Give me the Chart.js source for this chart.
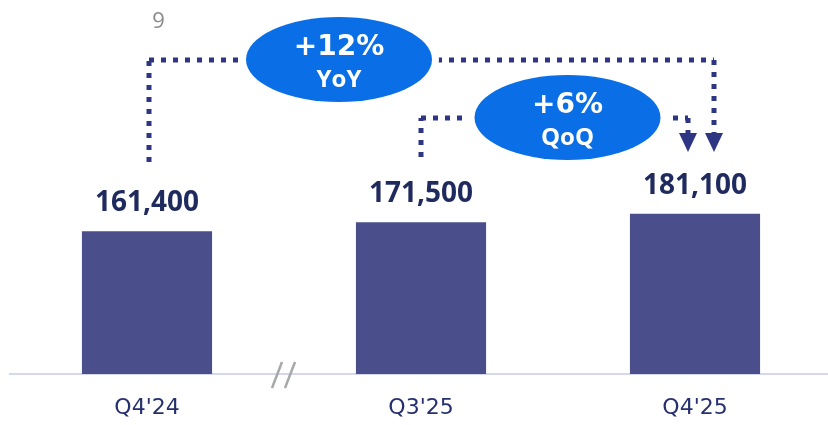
<!DOCTYPE html>
<html>
    <head>
        <meta charset="UTF-8"/>
        <title>Quarterly totals</title>
        <script src="https://cdn.jsdelivr.net/npm/chart.js@4.4.1/dist/chart.umd.min.js"></script>
        <style>
            html, body { margin: 0; padding: 0; overflow: hidden; background: #ffffff; }
            #wrap { position: relative; width: 832px; height: 425px; }
        </style>
    </head>
    <body>
        <div id="wrap"><canvas id="chart"></canvas></div>
        <script>
            const quarters = ["Q4'24", "Q3'25", "Q4'25"];
            const totals = [161400, 171500, 181100];
            const yoyText = ['+12%', 'YoY'];
            const qoqText = ['+6%', 'QoQ'];
            const pageNumber = '9';

            const navy = '#2e3582';
            const bubble = '#0a6fe6';

            function dotted(ctx, pts) {
                ctx.save();
                ctx.strokeStyle = navy;
                ctx.lineWidth = 5;
                ctx.lineCap = 'butt';
                ctx.setLineDash([5, 7]);
                for (let i = 0; i < pts.length - 1; i++) {
                    ctx.beginPath();
                    ctx.moveTo(pts[i][0], pts[i][1]);
                    ctx.lineTo(pts[i + 1][0], pts[i + 1][1]);
                    ctx.stroke();
                }
                ctx.restore();
            }

            function arrowHead(ctx, x, top, tip) {
                ctx.save();
                ctx.fillStyle = navy;
                ctx.beginPath();
                ctx.moveTo(x - 9, top);
                ctx.lineTo(x + 9, top);
                ctx.lineTo(x, tip);
                ctx.closePath();
                ctx.fill();
                ctx.restore();
            }

            function bubbleLabel(ctx, cx, cy, lines) {
                ctx.save();
                // white halo leaves a gap in the dotted line
                ctx.beginPath();
                ctx.ellipse(cx, cy, 93, 42.5, 0, 0, Math.PI * 2);
                ctx.strokeStyle = '#ffffff';
                ctx.lineWidth = 14;
                ctx.stroke();
                ctx.fillStyle = bubble;
                ctx.fill();
                ctx.fillStyle = '#ffffff';
                ctx.textAlign = 'center';
                ctx.textBaseline = 'alphabetic';
                ctx.font = 'bold 28px "DejaVu Sans"';
                ctx.fillText(lines[0], cx, cy - 4.5);
                ctx.font = 'bold 24px "Open Sans"';
                ctx.fillText(lines[1], cx, cy + 27.5);
                ctx.restore();
            }

            const overlay = {
                id: 'overlay',
                afterDatasetsDraw(chart) {
                    const ctx = chart.ctx;
                    const bars = chart.getDatasetMeta(0).data;
                    const cx = bars.map(b => b.x);

                    // value labels above bars
                    ctx.save();
                    ctx.fillStyle = '#1f2a5e';
                    ctx.font = 'bold 28px "Open Sans"';
                    ctx.textAlign = 'center';
                    ctx.textBaseline = 'alphabetic';
                    bars.forEach((b, i) => {
                        ctx.fillText(totals[i].toLocaleString('en-US'), b.x, b.y - 20);
                    });
                    ctx.restore();

                    // page number
                    ctx.save();
                    ctx.fillStyle = '#8a8a8a';
                    ctx.font = '22px "Open Sans"';
                    ctx.textAlign = 'center';
                    ctx.fillText(pageNumber, 158.5, 28);
                    ctx.restore();

                    // axis break marks
                    const mid = (cx[0] + cx[1]) / 2;
                    ctx.save();
                    ctx.strokeStyle = '#a8a8a8';
                    ctx.lineWidth = 2.5;
                    [-7, 6].forEach(dx => {
                        ctx.beginPath();
                        ctx.moveTo(mid + dx + 5, 362);
                        ctx.lineTo(mid + dx - 5, 388);
                        ctx.stroke();
                    });
                    ctx.restore();

                    // YoY bracket
                    const yoyY = 60;
                    dotted(ctx, [[cx[0] + 2, 162], [cx[0] + 2, yoyY], [cx[2] + 19, yoyY], [cx[2] + 19, 133]]);
                    arrowHead(ctx, cx[2] + 19, 133, 152);
                    bubbleLabel(ctx, 339, yoyY - 0.5, yoyText);

                    // QoQ bracket
                    const qoqY = 118;
                    dotted(ctx, [[cx[1], 157], [cx[1], qoqY], [cx[2] - 7, qoqY], [cx[2] - 7, 133]]);
                    arrowHead(ctx, cx[2] - 7, 133, 152);
                    bubbleLabel(ctx, 567.5, qoqY - 0.5, qoqText);
                }
            };

            const ctx = document.getElementById('chart').getContext('2d');
            const myChart = new Chart(ctx, {
                type: 'bar',
                data: {
                    labels: quarters,
                    datasets: [{
                        data: totals,
                        backgroundColor: '#4a4f8b',
                        borderWidth: 0,
                        categoryPercentage: 1,
                        barPercentage: 0.475
                    }]
                },
                options: {
                    responsive: true,
                    maintainAspectRatio: false,
                    devicePixelRatio: 1,
                    animation: false,
                    layout: { padding: { left: 10, right: 0, top: 20, bottom: 4 } },
                    plugins: {
                        legend: { display: false },
                        tooltip: { enabled: false }
                    },
                    scales: {
                        x: {
                            grid: { display: false, drawTicks: false },
                            border: { display: true, color: '#d4d7f0', width: 2 },
                            ticks: {
                                color: '#26306e',
                                padding: 21,
                                font: { family: 'DejaVu Sans', size: 22 }
                            },
                            afterFit: function(scale) {
                                scale.height = 47;
                            }
                        },
                        y: {
                            display: false,
                            min: 0,
                            max: 400000
                        }
                    }
                },
                plugins: [overlay]
            });
        </script>
    </body>
</html>
